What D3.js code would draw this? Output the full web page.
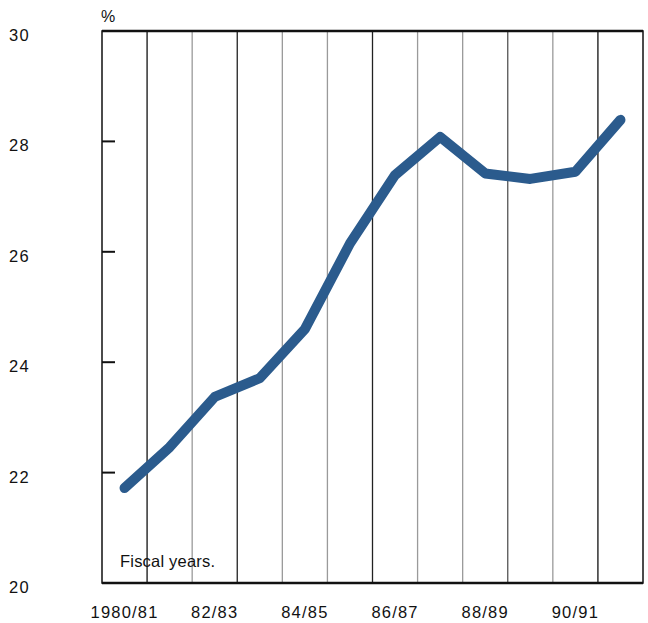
<!DOCTYPE html>
<html>
<head>
<meta charset="utf-8">
<script src="https://cdn.jsdelivr.net/npm/d3@7"></script>
<style>
  html, body { margin: 0; padding: 0; background: #fff; }
  svg { display: block; }
  text { font-family: "Liberation Sans", Arial, Helvetica, sans-serif; fill: #111; }
</style>
</head>
<body>
<script>
// Fiscal years shown along the x axis (one band per year)
const years = ["1980/81", "81/82", "82/83", "83/84", "84/85", "85/86",
               "86/87", "87/88", "88/89", "89/90", "90/91", "91/92"];
// Percentage per fiscal year
const values = [21.72, 22.46, 23.37, 23.71, 24.6, 26.15,
                27.39, 28.08, 27.42, 27.32, 27.45, 28.39];
// Labelled years on the x axis
const xTickLabels = ["1980/81", "82/83", "84/85", "86/87", "88/89", "90/91"];
// Y axis ticks
const yTicks = [20, 22, 24, 26, 28, 30];

const W = 648, H = 623;
const plotLeft = 102, plotRight = 643, plotTop = 31, plotBottom = 583;

const svg = d3.select("body").append("svg").attr("width", W).attr("height", H);

const x = d3.scaleBand().domain(years).range([plotLeft, plotRight]).padding(0);
const y = d3.scaleLinear().domain([20, 30]).range([plotBottom, plotTop]);

// Vertical year dividers, alternating dark and light strokes
const dividerShades = ["#111", "#9a9a9a", "#222", "#9a9a9a", "#9a9a9a", "#222",
                       "#9a9a9a", "#9a9a9a", "#555", "#9a9a9a", "#111"];
svg.append("g")
  .selectAll("line")
  .data(years.slice(1))
  .join("line")
  .attr("x1", d => x(d)).attr("x2", d => x(d))
  .attr("y1", plotTop).attr("y2", plotBottom)
  .attr("stroke", (d, i) => dividerShades[i])
  .attr("stroke-width", 1.3);

// Frame
svg.append("rect")
  .attr("x", plotLeft).attr("y", plotTop)
  .attr("width", plotRight - plotLeft).attr("height", plotBottom - plotTop)
  .attr("fill", "none").attr("stroke", "#111").attr("stroke-width", 1.5);
svg.append("line").attr("x1", plotLeft).attr("x2", plotRight).attr("y1", plotTop).attr("y2", plotTop)
  .attr("stroke", "#111").attr("stroke-width", 2.5);
svg.append("line").attr("x1", plotLeft).attr("x2", plotRight).attr("y1", plotBottom).attr("y2", plotBottom)
  .attr("stroke", "#111").attr("stroke-width", 2.5);

// Inward y ticks
svg.append("g")
  .selectAll("line")
  .data(yTicks.filter(t => t > 20 && t < 30))
  .join("line")
  .attr("x1", plotLeft).attr("x2", plotLeft + 13)
  .attr("y1", d => y(d)).attr("y2", d => y(d))
  .attr("stroke", "#111").attr("stroke-width", 2);

// Y labels
svg.append("g")
  .selectAll("text")
  .data(yTicks)
  .join("text")
  .attr("x", 9)
  .attr("y", d => y(d) + 10)
  .attr("font-size", 16.5)
  .attr("letter-spacing", 1.2)
  .text(d => d);

svg.append("text").attr("x", 101).attr("y", 22).attr("font-size", 16).text("%");

// X labels
svg.append("g")
  .selectAll("text")
  .data(xTickLabels)
  .join("text")
  .attr("x", d => x(d) + x.bandwidth() / 2)
  .attr("y", 618)
  .attr("text-anchor", "middle")
  .attr("font-size", 16.5)
  .attr("letter-spacing", 1.2)
  .text(d => d);

svg.append("text").attr("x", 120).attr("y", 567).attr("font-size", 16.5)
  .attr("letter-spacing", 0.2).text("Fiscal years.");

// Data line
const line = d3.line()
  .x((d, i) => x(years[i]) + x.bandwidth() / 2)
  .y(d => y(d));

svg.append("path")
  .datum(values)
  .attr("d", line)
  .attr("fill", "none")
  .attr("stroke", "#2b5b8d")
  .attr("stroke-width", 10)
  .attr("stroke-linecap", "round")
  .attr("stroke-linejoin", "round");
</script>
</body>
</html>
